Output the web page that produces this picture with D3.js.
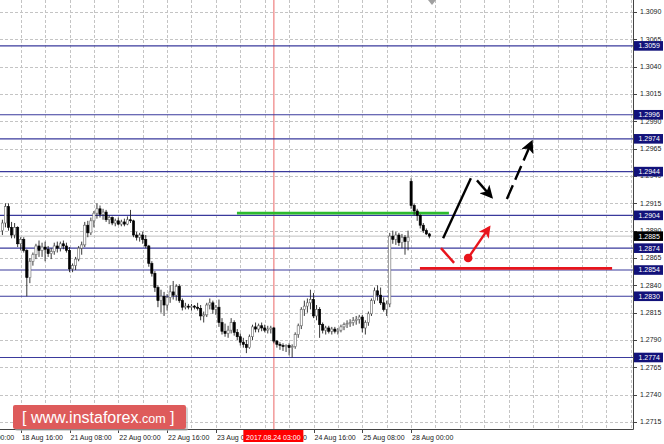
<!DOCTYPE html>
<html><head><meta charset="utf-8">
<script src="https://cdn.jsdelivr.net/npm/d3@7"></script>
<style>
body{margin:0;background:#fff;}
svg{display:block;}
text{font-family:"Liberation Sans",Arial,sans-serif;}
</style>
</head><body>
<svg id="chart" width="664" height="444"></svg>
<script>
// ---- data (EURUSD-like H1 candles, bar index 0 = 18 Aug 10:00) ----
const open=[1.2890,1.2897,1.2912,1.2893,1.2886,1.2893,1.2878,1.2882,1.2872,1.2847,
1.2862,1.2868,1.2876,1.2872,1.2875,1.2873,1.2869,1.2871,1.2876,1.2874,
1.2878,1.2876,1.2872,1.2855,1.2858,1.2864,1.2874,1.2877,1.2895,1.2888,
1.2899,1.2906,1.2910,1.2905,1.2907,1.2900,1.2902,1.2897,1.2899,1.2896,
1.2898,1.2896,1.2900,1.2899,1.2886,1.2884,1.2886,1.2882,1.2876,1.2860,
1.2851,1.2838,1.2826,1.2830,1.2822,1.2829,1.2834,1.2831,1.2839,1.2826,
1.2820,1.2821,1.2820,1.2821,1.2820,1.2819,1.2812,1.2813,1.2822,1.2824,
1.2818,1.2820,1.2806,1.2798,1.2796,1.2799,1.2806,1.2797,1.2793,1.2788,
1.2786,1.2783,1.2793,1.2802,1.2800,1.2803,1.2801,1.2799,1.2800,1.2801,
1.2789,1.2786,1.2785,1.2784,1.2785,1.2783,1.2784,1.2795,1.2803,1.2818,
1.2821,1.2824,1.2827,1.2812,1.2818,1.2804,1.2799,1.2801,1.2798,1.2800,
1.2798,1.2799,1.2802,1.2804,1.2805,1.2806,1.2808,1.2809,1.2811,1.2801,
1.2806,1.2814,1.2826,1.2835,1.2831,1.2824,1.2818,1.2823,1.2885,1.2882,
1.2886,1.2879,1.2884,1.2880,1.2935,1.2913,1.2908,1.2904,1.2895,1.2890,1.2887];
const high=[1.2900,1.2915,1.2915,1.2898,1.2897,1.2894,1.2884,1.2884,1.2873,1.2865,
1.2870,1.2878,1.2881,1.2879,1.2880,1.2876,1.2874,1.2879,1.2880,1.2880,
1.2881,1.2879,1.2875,1.2860,1.2866,1.2876,1.2880,1.2898,1.2899,1.2902,
1.2908,1.2915,1.2913,1.2910,1.2909,1.2904,1.2903,1.2901,1.2902,1.2900,
1.2901,1.2903,1.2909,1.2900,1.2889,1.2888,1.2889,1.2886,1.2877,1.2862,
1.2853,1.2840,1.2836,1.2834,1.2832,1.2840,1.2844,1.2841,1.2841,1.2828,
1.2824,1.2823,1.2823,1.2822,1.2824,1.2822,1.2816,1.2824,1.2828,1.2826,
1.2822,1.2827,1.2810,1.2805,1.2803,1.2810,1.2808,1.2800,1.2796,1.2792,
1.2790,1.2795,1.2804,1.2806,1.2805,1.2806,1.2804,1.2803,1.2803,1.2802,
1.2790,1.2788,1.2787,1.2786,1.2787,1.2786,1.2797,1.2805,1.2820,1.2826,
1.2828,1.2836,1.2833,1.2822,1.2820,1.2806,1.2803,1.2803,1.2802,1.2802,
1.2801,1.2804,1.2806,1.2808,1.2809,1.2811,1.2812,1.2813,1.2813,1.2808,
1.2816,1.2828,1.2838,1.2840,1.2838,1.2829,1.2826,1.2888,1.2890,1.2889,
1.2888,1.2887,1.2886,1.2890,1.2938,1.2915,1.2910,1.2905,1.2897,1.2892,1.2888];
const low=[1.2886,1.2893,1.2890,1.2883,1.2883,1.2875,1.2872,1.2870,1.2830,1.2842,
1.2858,1.2864,1.2866,1.2866,1.2862,1.2866,1.2864,1.2868,1.2870,1.2871,
1.2873,1.2870,1.2852,1.2852,1.2854,1.2862,1.2868,1.2875,1.2884,1.2886,
1.2893,1.2901,1.2902,1.2900,1.2898,1.2896,1.2895,1.2894,1.2895,1.2894,
1.2894,1.2895,1.2897,1.2884,1.2881,1.2880,1.2878,1.2874,1.2857,1.2848,
1.2834,1.2820,1.2815,1.2812,1.2817,1.2824,1.2827,1.2826,1.2824,1.2817,
1.2818,1.2818,1.2817,1.2818,1.2817,1.2808,1.2806,1.2811,1.2818,1.2814,
1.2813,1.2802,1.2795,1.2793,1.2792,1.2796,1.2794,1.2790,1.2785,1.2783,
1.2778,1.2782,1.2790,1.2797,1.2797,1.2798,1.2797,1.2796,1.2796,1.2787,
1.2783,1.2781,1.2780,1.2779,1.2776,1.2774,1.2782,1.2792,1.2800,1.2812,
1.2815,1.2818,1.2810,1.2808,1.2792,1.2796,1.2795,1.2796,1.2795,1.2796,
1.2795,1.2797,1.2799,1.2801,1.2802,1.2803,1.2804,1.2805,1.2797,1.2795,
1.2803,1.2812,1.2823,1.2826,1.2822,1.2816,1.2812,1.2820,1.2878,1.2877,
1.2876,1.2874,1.2868,1.2872,1.2910,1.2904,1.2899,1.2892,1.2888,1.2886,1.2883];
const close=[1.2897,1.2912,1.2893,1.2886,1.2893,1.2878,1.2882,1.2872,1.2847,1.2862,
1.2868,1.2876,1.2872,1.2875,1.2873,1.2869,1.2871,1.2876,1.2874,1.2878,
1.2876,1.2872,1.2855,1.2858,1.2864,1.2874,1.2877,1.2895,1.2888,1.2899,
1.2906,1.2910,1.2905,1.2907,1.2900,1.2902,1.2897,1.2899,1.2896,1.2898,
1.2896,1.2900,1.2899,1.2886,1.2884,1.2886,1.2882,1.2876,1.2860,1.2851,
1.2838,1.2826,1.2830,1.2822,1.2829,1.2834,1.2831,1.2839,1.2826,1.2820,
1.2821,1.2820,1.2821,1.2820,1.2819,1.2812,1.2813,1.2822,1.2824,1.2818,
1.2820,1.2806,1.2798,1.2796,1.2799,1.2806,1.2797,1.2793,1.2788,1.2786,
1.2783,1.2793,1.2802,1.2800,1.2803,1.2801,1.2799,1.2800,1.2801,1.2789,
1.2786,1.2785,1.2784,1.2785,1.2783,1.2784,1.2795,1.2803,1.2818,1.2821,
1.2824,1.2827,1.2812,1.2818,1.2804,1.2799,1.2801,1.2798,1.2800,1.2798,
1.2799,1.2802,1.2804,1.2805,1.2806,1.2808,1.2809,1.2811,1.2801,1.2806,
1.2814,1.2826,1.2835,1.2831,1.2824,1.2818,1.2823,1.2885,1.2882,1.2886,
1.2879,1.2884,1.2880,1.2884,1.2913,1.2908,1.2904,1.2895,1.2890,1.2887,1.2885];

const levels=[1.3059,1.2996,1.2974,1.2944,1.2904,1.2874,1.2854,1.2830,1.2774];
const currentPrice=1.2885;
const yTicks=[1.3090,1.3065,1.3040,1.3015,1.2990,1.2965,1.2940,1.2915,1.2890,1.2865,1.2840,1.2815,1.2790,1.2765,1.2740,1.2715];
const xTickBars=[-10,6,22,38,54,70,86,102,118,134];
const xTickLabels=["18 Aug 00:00","18 Aug 16:00","21 Aug 08:00","22 Aug 00:00","22 Aug 16:00","23 Aug 08:00","24 Aug 00:00","24 Aug 16:00","25 Aug 08:00","28 Aug 00:00"];
const markerBar=89, markerLabel="2017.08.24 03:00";
// forecast annotations (bar index, price)
const greenLevel={from:76.9,to:146.4,price:1.2906};
const redLevel={from:136.9,to:199.9,price:1.28555};
const blackPath1=[[144.5,1.2883],[153.6,1.2938]];
const blackArrow2=[[155.6,1.2936],[160.3,1.2921]];
const blackArrow3=[[165.4,1.2919],[173.5,1.2971]];
const redSeg=[[143.8,1.2874],[148.1,1.28605]];
const redDot=[152.7,1.2865];
const redArrow=[[152.7,1.2865],[159.6,1.2893]];

// ---- layout ----
const svg=d3.select("#chart");
const plotR=633.5, plotB=429.5;
const x=d3.scaleLinear().domain([0,140]).range([2.4,429.4]);
const y=d3.scaleLinear().domain([1.2715,1.3090]).range([422,12]);

svg.append("rect").attr("width",664).attr("height",444).attr("fill","#fff");
const defs=svg.append("defs");
defs.append("clipPath").attr("id","plot").append("rect").attr("x",0).attr("y",0).attr("width",plotR).attr("height",plotB);
function marker(id,color,size){
  defs.append("marker").attr("id",id).attr("viewBox","0 0 10 10").attr("refX",8).attr("refY",5)
    .attr("markerWidth",size).attr("markerHeight",size).attr("markerUnits","userSpaceOnUse").attr("orient","auto")
    .append("path").attr("d","M0,0 L10,5 L0,10 L2.5,5 Z").attr("fill",color);
}
marker("ab","#000",13);
marker("ar","#e8141c",12);

const g=svg.append("g").attr("clip-path","url(#plot)");

// grid
const gridBars=d3.range(-2,210,8).filter(b=>x(b)>0&&x(b)<plotR-2);
g.selectAll(".vg").data(gridBars).join("line")
  .attr("x1",d=>Math.round(x(d))+0.5).attr("x2",d=>Math.round(x(d))+0.5).attr("y1",0).attr("y2",plotB)
  .attr("stroke","#c4c4c4").attr("stroke-dasharray","3,2");
g.selectAll(".hg").data(yTicks).join("line")
  .attr("x1",0).attr("x2",plotR).attr("y1",d=>Math.round(y(d))+0.5).attr("y2",d=>Math.round(y(d))+0.5)
  .attr("stroke","#c4c4c4").attr("stroke-dasharray","3,2");

// vertical marker line
g.append("line").attr("x1",x(markerBar)).attr("x2",x(markerBar)).attr("y1",0).attr("y2",plotB)
  .attr("stroke","#f08a8a").attr("stroke-width",1.3);

// levels
g.selectAll(".lv").data(levels).join("line")
  .attr("x1",0).attr("x2",plotR).attr("y1",d=>y(d)).attr("y2",d=>y(d))
  .attr("stroke","#3a3a9c").attr("stroke-width",1.1);
g.append("line").attr("x1",0).attr("x2",plotR).attr("y1",y(currentPrice)).attr("y2",y(currentPrice))
  .attr("stroke","#c0c0c0").attr("stroke-width",1);

// green / red horizontal
g.append("line").attr("x1",x(greenLevel.from)).attr("x2",x(greenLevel.to)).attr("y1",y(greenLevel.price)).attr("y2",y(greenLevel.price))
  .attr("stroke","#2dbb2d").attr("stroke-width",2.6);
g.append("line").attr("x1",x(redLevel.from)).attr("x2",x(redLevel.to)).attr("y1",y(redLevel.price)).attr("y2",y(redLevel.price))
  .attr("stroke","#e8141c").attr("stroke-width",2.6);

// candles
const idx=d3.range(close.length);
g.selectAll(".wick").data(idx).join("line")
  .attr("x1",i=>x(i)).attr("x2",i=>x(i)).attr("y1",i=>y(high[i])).attr("y2",i=>y(low[i]))
  .attr("stroke","#222").attr("stroke-width",0.9);
g.selectAll(".body").data(idx).join("rect")
  .attr("x",i=>x(i)-1.1).attr("width",2.2)
  .attr("y",i=>y(Math.max(open[i],close[i])))
  .attr("height",i=>Math.max(0.8,Math.abs(y(open[i])-y(close[i]))))
  .attr("fill",i=>close[i]>=open[i]?"#fff":"#000")
  .attr("stroke",i=>close[i]>=open[i]?"#666":"#000").attr("stroke-width",0.6);

// annotations
const P=p=>[x(p[0]),y(p[1])];
function seg(pts,color,w,mk,dash){
  const a=P(pts[0]),b=P(pts[1]);
  const l=svg.append("line").attr("x1",a[0]).attr("y1",a[1]).attr("x2",b[0]).attr("y2",b[1])
    .attr("stroke",color).attr("stroke-width",w);
  if(mk) l.attr("marker-end",`url(#${mk})`);
  if(dash) l.attr("stroke-dasharray",dash);
}
seg(blackPath1,"#000",2.4);
seg(blackArrow2,"#000",2.4,"ab");
seg(blackArrow3,"#000",2.4,"ab","15,6");
seg(redSeg,"#e8141c",2.4);
seg(redArrow,"#e8141c",2.4,"ar");
svg.append("circle").attr("cx",x(redDot[0])).attr("cy",y(redDot[1])).attr("r",4.3).attr("fill","#e8141c");

// shift marker triangle
svg.append("path").attr("d","M428,0 L436,0 L432,5 Z").attr("fill","#a0a0a0");

// axes frame
svg.append("line").attr("x1",plotR).attr("x2",plotR).attr("y1",0).attr("y2",plotB).attr("stroke","#444");
svg.append("line").attr("x1",0).attr("x2",plotR).attr("y1",plotB).attr("y2",plotB).attr("stroke","#444");

// right axis ticks
const ra=svg.append("g");
ra.selectAll("line").data(yTicks).join("line")
  .attr("x1",plotR).attr("x2",plotR+3.5).attr("y1",d=>Math.round(y(d))+0.5).attr("y2",d=>Math.round(y(d))+0.5).attr("stroke","#444");
ra.selectAll("text").data(yTicks).join("text")
  .attr("x",640).attr("y",d=>y(d)).attr("dy","0.35em").attr("font-size",7).attr("fill","#222")
  .text(d=>d.toFixed(4));

// level boxes
const lb=svg.append("g");
const boxes=levels.map(v=>({v,c:"#12127a"})).concat([{v:currentPrice,c:"#000"}]);
lb.selectAll("rect").data(boxes).join("rect")
  .attr("x",plotR+0.5).attr("y",d=>y(d.v)-4.8).attr("width",29).attr("height",9.6).attr("fill",d=>d.c);
lb.selectAll("text").data(boxes).join("text")
  .attr("x",638.5).attr("y",d=>y(d.v)).attr("dy","0.35em").attr("font-size",7).attr("fill","#fff")
  .text(d=>d.v.toFixed(4));

// bottom axis
const ba=svg.append("g");
ba.selectAll("line").data(xTickBars).join("line")
  .attr("x1",d=>Math.round(x(d))+0.5).attr("x2",d=>Math.round(x(d))+0.5).attr("y1",plotB).attr("y2",plotB+3.5).attr("stroke","#444");
ba.selectAll("text").data(xTickBars).join("text")
  .attr("x",d=>x(d)+1).attr("y",440).attr("font-size",7).attr("fill","#222")
  .text((d,i)=>xTickLabels[i]);
// marker label
const mx=x(markerBar);
svg.append("rect").attr("x",mx-30.5).attr("y",430).attr("width",60).attr("height",12).attr("fill","#ff0000");
svg.append("text").attr("x",mx-0.5).attr("y",439.5).attr("text-anchor","middle").attr("font-size",7).attr("fill","#fff").text(markerLabel);

// logo
const logo=svg.append("g");
logo.append("rect").attr("x",15).attr("y",407).attr("width",173).attr("height",24).attr("rx",2).attr("fill","#b8b8b8").attr("opacity",0.6);
logo.append("rect").attr("x",13).attr("y",405).attr("width",173).attr("height",24).attr("rx",2).attr("fill","#de5b5b");
const lt=logo.append("text").attr("x",22).attr("y",423).attr("fill","#fff").attr("font-size",16);
lt.append("tspan").text("[ www.instaforex");
lt.append("tspan").attr("font-size",12.5).text(".com");
lt.append("tspan").text(" ]");
</script>
</body></html>
